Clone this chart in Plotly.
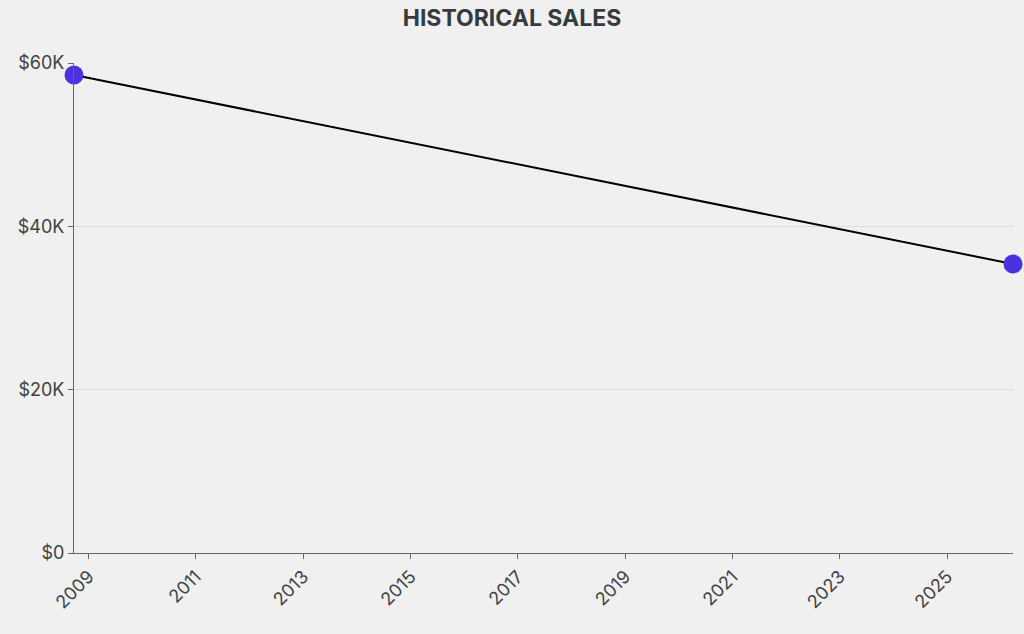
import plotly.graph_objects as go

dates = ["2008-09-23", "2026-03-25"]
sales = [58530, 35390]
x_range = ["2008-09-23", "2026-03-25"]
y_ticks = [0, 20000, 40000, 60000]
y_labels = ["$0", "$20K", "$40K", "$60K"]

fig = go.Figure()
fig.add_trace(go.Scatter(
    x=dates, y=sales, mode="lines+markers",
    line=dict(color="#000000", width=2),
    marker=dict(color="#4b32e0", size=19),
    cliponaxis=False,
    hoverinfo="x+y",
))

fig.update_layout(
    width=1024, height=634,
    paper_bgcolor="#f0f0f0", plot_bgcolor="#f0f0f0",
    margin=dict(l=74, r=11, t=63, b=81),
    font=dict(family="Inter, sans-serif", size=18, color="#3d4246"),
    title=dict(text="<b>HISTORICAL SALES</b>", x=0.5, xanchor="center",
               y=0.985, yanchor="top", font=dict(size=23, color="#363b3f")),
    showlegend=False,
)
fig.update_xaxes(
    type="date", range=x_range, dtick="M24", tick0="2009-01-01",
    tickformat="%Y", tickangle=-45, showgrid=False,
    showline=True, linecolor="#666666", linewidth=1,
    ticks="outside", ticklen=5, tickcolor="#666666",
    tickfont=dict(size=18, color="#3d4246"), zeroline=False,
)
fig.update_yaxes(
    range=[0, 60000], tickvals=y_ticks, ticktext=y_labels,
    showgrid=True, gridcolor="#dcdcdc", gridwidth=1,
    showline=True, linecolor="#666666", linewidth=1,
    ticks="outside", ticklen=5, tickcolor="#666666",
    tickfont=dict(size=18, color="#3d4246"), zeroline=False,
)

fig.write_html("out.html", config={"displayModeBar": False},
               post_script="document.body.style.margin='0';document.body.style.overflow='hidden';")
